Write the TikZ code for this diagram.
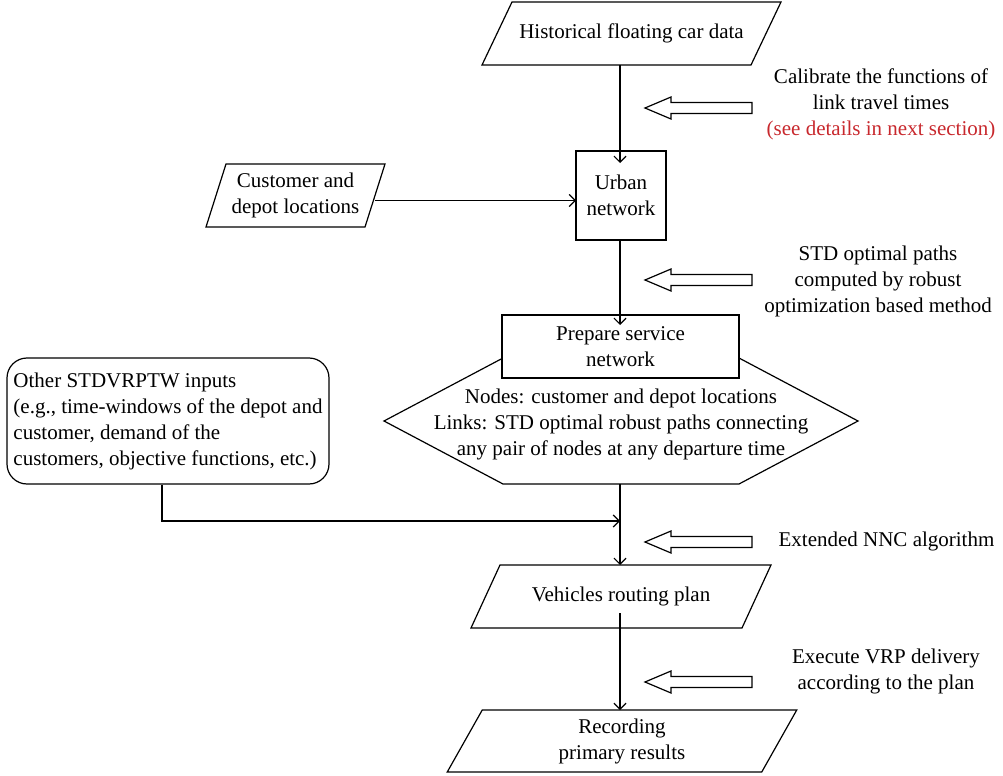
\documentclass[tikz,border=0pt]{standalone}
\usepackage{fontspec}
\setmainfont{Liberation Serif}
\usepackage{tikz}
\usetikzlibrary{arrows.meta}
\definecolor{notered}{RGB}{200,40,45}

\begin{document}
\begin{tikzpicture}[x=0.5pt, y=-0.5pt, line width=0.6pt, font=\fontsize{10.5pt}{13pt}\selectfont]
\tikzset{io/.style={rectangle, inner sep=0pt, outer sep=0pt, minimum height=31.5pt, align=center,
  append after command={\pgfextra{\draw ([xshift=#1]\tikzlastnode.north west) -- ([xshift=#1]\tikzlastnode.north east) -- ([xshift=-#1]\tikzlastnode.south east) -- ([xshift=-#1]\tikzlastnode.south west) -- cycle;}}}}
\tikzstyle{proc} = [rectangle, draw=black, fill=white, inner sep=0pt, outer sep=0pt, align=center]
\tikzstyle{note} = [inner sep=0pt, align=center]
\tikzstyle{flow} = [-{Straight Barb[length=3pt,width=6pt]}]
\tikzset{hollow/.pic={\draw (0,0) -- (26,-11) -- (26,-5.5) -- (107,-5.5) -- (107,5.5) -- (26,5.5) -- (26,11) -- cycle;}}

\useasboundingbox (0,0) rectangle (1003,776);
\coordinate (axis) at (620,0);

% Inputs
\node (hist) [io=7.5pt, minimum width=134.5pt] at (631.5,33.5) {Historical floating car data};
\node (cust) [io=5pt, minimum width=79.5pt] at (295.5,195.5) {Customer and\\depot locations};
\node (other) [rectangle, rounded corners=10pt, draw=black, minimum width=161pt, minimum height=63pt, inner sep=3pt, align=left] at (168,421) {Other STDVRPTW inputs\\(e.g., time-windows of the depot and\\customer, demand of the\\customers, objective functions, etc.)};

% Network
\node (urban) [proc, minimum width=45pt, minimum height=44.5pt] at (621,195.5) {Urban\\network};
\coordinate (hexc) at (621,421);
\draw ([shift={(-118,-63)}]hexc) -- ([shift={(-237,0)}]hexc) -- ([shift={(-118,63)}]hexc) -- ([shift={(118,63)}]hexc) -- ([shift={(237,0)}]hexc) -- ([shift={(118,-63)}]hexc);
\node (links) [note] at (621,424) {Nodes: customer and depot locations\\Links: STD optimal robust paths connecting\\any pair of nodes at any departure time};
\coordinate (hexbot) at (620,484);
\node (prep) [proc, minimum width=118.5pt, minimum height=31.5pt] at (620.5,346.5) {Prepare service\\network};

% Outputs
\node (vrp) [io=7.25pt, minimum width=135.5pt] at (621,596.5) {Vehicles routing plan};
\node (rec) [io=8.75pt, minimum width=157.25pt, minimum height=31pt] at (622,741) {Recording\\primary results};

% Notes
\node (calib) [note] at (881,104) {Calibrate the functions of\\link travel times\\\textcolor{notered}{(see details in next section)}};
\node (stdpath) [note] at (878,281) {STD optimal paths\\computed by robust\\optimization based method};
\node (nnc) [note, anchor=west] at (778,541) {Extended NNC algorithm};
\node (exec) [note] at (886,671) {Execute VRP delivery\\according to the plan};

\pic at (645,108) {hollow};
\pic at (645,280) {hollow};
\pic at (645,542) {hollow};
\pic at (645,682) {hollow};

% Flows
\coordinate (join) at (620,521);
\coordinate (vrpout) at (620,613);
\draw[flow, shorten >=-6pt] (hist.south -| axis) -- (urban.north -| axis);
\draw[flow] ([yshift=-2.5pt]cust.east) -- ([yshift=-2.5pt]cust.east -| urban.west);
\draw[flow, shorten >=-5pt] (urban.south -| axis) -- (prep.north -| axis);
\draw[flow] (hexbot) -- (vrp.north -| axis);
\draw[flow] ([xshift=-3pt]other.south) |- (join);
\draw[flow] (vrpout) -- (rec.north -| axis);
\end{tikzpicture}
\end{document}
